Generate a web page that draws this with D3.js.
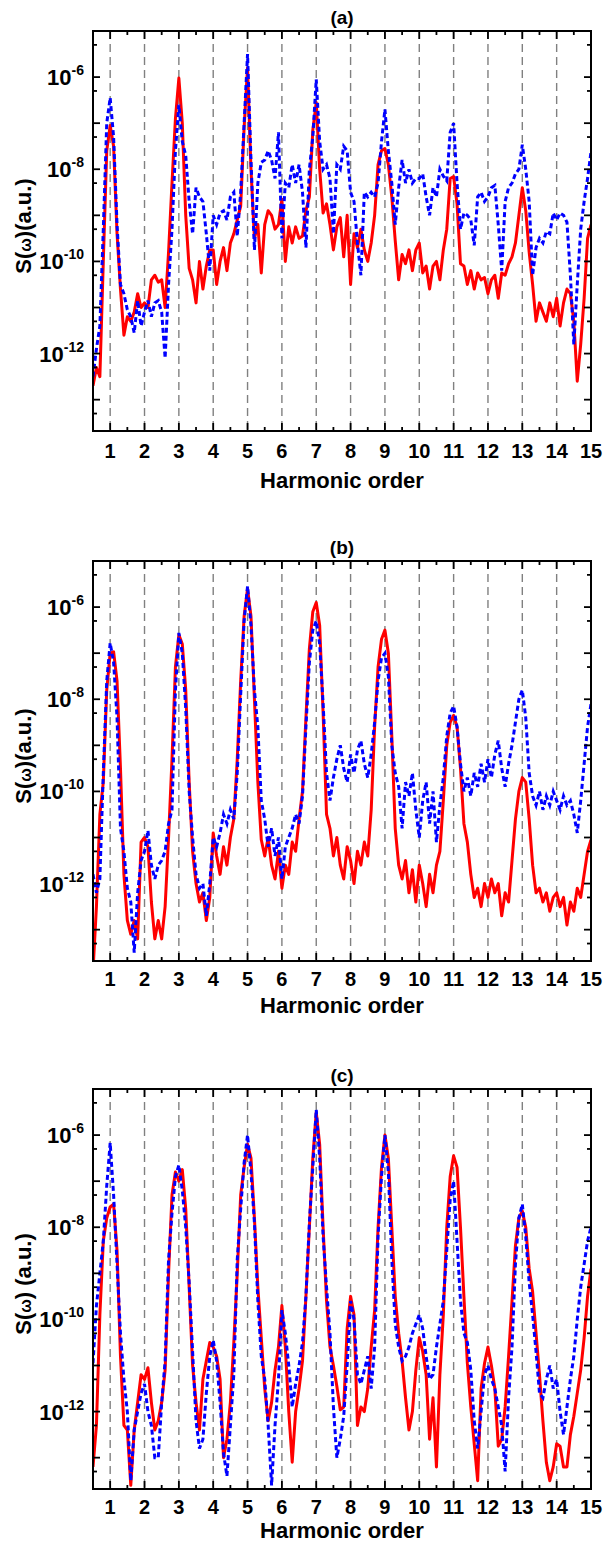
<!DOCTYPE html>
<html>
<head>
<meta charset="utf-8">
<script src="https://cdn.jsdelivr.net/npm/d3@7"></script>
<style>
  body { margin: 0; background: #fff; }
  text { font-family: "Liberation Sans", Arial, sans-serif; font-weight: bold; fill: #000; }
</style>
</head>
<body>
<svg id="chart" width="605" height="1543"></svg>
<script>
// x grid of every series: harmonic order 0.5 .. 15.0, step 0.1
const orderStart = 0.5, orderStep = 0.1;
const harmonicTicks = [1, 2, 3, 4, 5, 6, 7, 8, 9, 10, 11, 12, 13, 14, 15];
const yLabelExps = [-6, -8, -10, -12];
const panelTitles = ["(a)", "(b)", "(c)"];
const yTitles = [["S(", "ω", ")(a.u.)"], ["S(", "ω", ")(a.u.)"], ["S(", "ω", ") (a.u.)"]];

// log10 S(ω)
const redA = [
  -12.7, -12.3, -12.5, -10.0, -7.6, -7.05, -7.5, -9.4, -10.6, -11.6,
  -11.2, -11.3, -11.1, -10.7, -11.0, -10.9, -11.0, -10.4, -10.3, -10.45,
  -10.4, -11.0, -9.8, -8.3, -6.9, -6.02, -7.0, -9.0, -10.15, -10.4,
  -10.9, -10.0, -10.6, -10.1, -9.75, -9.75, -10.5, -10.0, -9.7, -10.2,
  -9.6, -9.4, -9.1, -8.8, -7.1, -5.8, -8.0, -9.5, -9.2, -10.25,
  -9.2, -8.9, -9.0, -9.3, -9.2, -8.65, -10.0, -9.25, -9.6, -9.25,
  -9.5, -9.45, -8.9, -8.6, -7.15, -6.55, -8.0, -8.95, -8.75, -9.2,
  -9.75, -9.25, -9.05, -9.9, -9.0, -10.5, -9.4, -9.7, -9.3, -9.75,
  -10.0, -9.6, -9.0, -7.9, -7.6, -7.55, -7.9, -8.6, -9.55, -10.4,
  -9.85, -10.05, -9.75, -10.2, -9.75, -9.6, -10.25, -10.1, -10.6, -10.1,
  -10.0, -10.4, -9.75, -9.3, -8.2, -8.16, -8.75, -10.05, -10.1, -10.5,
  -10.2, -10.6, -10.25, -10.4, -10.35, -10.7, -10.4, -10.3, -10.8, -10.25,
  -10.3, -10.05, -9.9, -9.6, -9.0, -8.4, -8.9, -9.8, -10.5, -11.3,
  -10.9, -11.1, -11.3, -10.9, -11.2, -10.8, -11.4, -10.9, -10.6, -10.7,
  -11.3, -12.6, -11.8, -10.8, -9.5, -9.2
];
const blueA = [
  -12.5, -11.9, -11.4, -9.3, -7.0, -6.45, -7.3, -9.2, -10.5, -10.7,
  -11.05, -11.2, -11.55, -10.85, -11.4, -11.1, -10.85, -11.2, -10.9, -10.85,
  -11.1, -12.1, -10.5, -9.3, -7.6, -6.6, -7.4, -7.7, -8.7, -9.4,
  -8.4, -8.6, -8.7, -9.4, -10.2, -9.0, -9.2, -8.95, -8.9, -9.1,
  -8.6, -8.5, -9.45, -8.5, -7.0, -5.5, -7.8, -9.75, -8.3, -7.85,
  -7.8, -7.6, -7.8, -8.2, -7.2, -9.5, -8.3, -8.4, -7.9, -8.3,
  -7.9, -8.5, -9.7, -8.0, -7.3, -6.05, -7.4, -8.0, -7.9, -8.2,
  -9.4, -7.9, -8.0, -7.5, -7.6, -8.5, -8.7, -9.6, -10.3, -8.5,
  -8.6, -8.5, -8.6, -8.3, -7.4, -6.7, -7.6, -8.3, -9.2, -8.4,
  -7.8, -8.3, -8.0, -8.3, -8.2, -8.2, -8.1, -8.6, -9.0, -8.4,
  -8.6, -8.0, -8.15, -8.25, -7.2, -7.0, -8.3, -9.3, -8.95, -9.0,
  -9.1, -9.65, -8.6, -8.5, -8.7, -8.6, -8.4, -8.35, -9.2, -10.2,
  -8.7, -8.4, -8.3, -8.1, -8.0, -7.47, -8.0, -8.7, -10.3, -9.7,
  -9.5, -9.6, -9.35, -9.4, -8.95, -9.1, -8.95, -9.0, -9.15, -10.3,
  -11.8, -10.5, -9.3, -8.7, -8.2, -7.62
];
const redB = [
  -13.9, -12.5, -10.5, -9.8, -7.8, -7.0, -6.97, -7.6, -9.5, -11.8,
  -12.8, -13.1, -12.8, -13.2, -11.1, -11.0, -11.2, -12.4, -13.2, -12.8,
  -13.2, -12.5, -11.0, -9.3, -7.3, -6.6, -6.8, -7.8, -9.8, -11.3,
  -12.0, -12.4, -12.2, -12.8, -12.3, -10.9, -11.4, -11.8, -11.2, -11.6,
  -11.0, -10.6, -9.3, -7.6, -6.2, -5.6, -6.2, -8.0, -9.8, -11.05,
  -11.4, -11.0, -11.6, -11.9, -11.3, -12.1, -11.6, -11.8, -11.1, -11.3,
  -10.6, -10.0, -8.4, -6.9, -6.1, -5.9, -6.4, -8.3, -10.5, -10.8,
  -11.4, -11.0, -11.6, -11.9, -11.2, -11.5, -12.0, -11.3, -11.6, -11.1,
  -11.4, -10.4, -8.6, -7.3, -6.7, -6.5, -7.0, -8.8, -10.8, -11.6,
  -11.9, -11.5, -12.2, -11.7, -12.4, -11.6, -12.0, -12.5, -11.8, -12.2,
  -11.6, -11.3, -10.2, -9.0, -8.5, -8.35, -8.6, -9.5, -10.7, -11.1,
  -11.8, -12.3, -12.1, -12.5, -12.0, -12.3, -11.9, -12.2, -12.0, -12.7,
  -12.2, -12.4, -11.5, -10.6, -10.0, -9.7, -9.8, -10.6, -11.6, -12.2,
  -12.1, -12.4, -12.2, -12.6, -12.3, -12.2, -12.5, -12.3, -12.9, -12.4,
  -12.6, -12.1, -12.3, -11.8, -11.3, -11.05
];
const blueB = [
  -11.8, -12.2, -11.9, -9.6, -7.6, -6.78, -7.2, -8.4, -10.8, -11.3,
  -12.1, -12.4, -13.5, -12.2, -11.5, -11.3, -10.85, -11.6, -11.9, -11.6,
  -11.5, -11.3, -10.7, -10.4, -7.8, -6.56, -7.0, -8.2, -10.0, -11.0,
  -11.8, -12.1, -12.0, -12.7, -12.0, -11.0, -11.2, -10.9, -10.5, -10.7,
  -10.4, -10.6, -9.6, -7.9, -6.3, -5.55, -6.4, -7.8, -8.6, -10.2,
  -10.6, -11.2, -10.8, -11.4, -11.0, -11.9, -11.2, -11.0, -10.8, -10.5,
  -10.7, -10.1, -8.6, -7.2, -6.5, -6.3, -6.8, -8.1, -9.6, -10.2,
  -9.7, -9.3, -9.0, -9.5, -9.8, -9.2, -9.6, -9.1, -8.9, -9.4,
  -9.7, -9.2, -8.5, -7.6, -7.1, -7.0, -7.5, -9.0, -9.6, -9.9,
  -10.8, -9.8, -10.1, -9.6, -10.4, -11.0, -10.2, -9.8, -10.7, -10.0,
  -11.1, -10.3, -9.7, -8.8, -8.3, -8.15, -8.6, -9.4, -10.0, -9.7,
  -10.1, -9.6, -9.9, -9.4, -9.8, -9.3, -9.7, -9.2, -8.9, -9.5,
  -9.9, -9.4, -9.0, -8.5, -8.0, -7.8, -8.4, -9.6, -10.1, -10.3,
  -10.0, -10.4, -10.1, -10.3, -10.0, -10.2, -10.4, -10.1, -10.3, -10.2,
  -10.5, -10.9, -10.2, -9.4, -8.6, -8.1
];
const redC = [
  -13.2, -12.3, -9.9, -8.3, -7.8, -7.56, -7.5, -8.5, -10.8, -12.3,
  -12.4, -13.6, -12.4, -11.8, -11.2, -11.3, -11.05, -11.8, -12.4, -12.2,
  -11.8, -11.1, -9.0, -7.3, -6.8, -7.0, -6.75, -7.6, -9.3, -11.0,
  -11.8, -12.4, -11.3, -10.9, -10.5, -10.6, -10.8, -11.3, -13.0, -12.6,
  -11.8, -10.5, -9.0, -7.3, -6.7, -6.2, -6.5, -7.8, -9.3, -10.4,
  -11.5, -12.2, -11.8, -11.1, -10.6, -9.7, -10.6, -12.0, -13.1, -12.0,
  -11.5, -10.9, -9.5, -8.0, -6.5, -5.5, -6.2, -8.0, -9.6, -10.6,
  -11.0, -11.45, -11.96, -11.9, -10.2, -9.5, -9.9, -12.3, -11.9, -12.0,
  -11.5, -10.6, -9.8, -8.0, -6.7, -6.0, -6.5, -8.0, -9.5, -10.3,
  -10.9, -11.7, -12.4, -12.0, -11.1, -10.4, -10.7, -11.2, -12.6, -11.7,
  -13.2, -11.2, -9.9, -8.0, -6.9, -6.45, -6.7, -8.0, -9.5, -10.95,
  -11.9, -12.7, -13.5, -11.5, -10.95, -10.6, -11.0, -11.5, -12.75, -12.6,
  -11.9, -10.8, -9.6, -8.4, -7.8, -7.65, -8.0, -8.9, -9.4, -10.3,
  -11.2, -12.2, -13.1, -13.5, -13.2, -12.7, -12.75, -13.2, -13.2, -12.5,
  -12.1, -11.6, -11.1, -10.4, -9.5, -8.9
];
const blueC = [
  -10.95, -9.7, -9.0, -8.3, -7.1, -6.17, -7.3, -8.8, -10.3, -11.3,
  -12.0, -13.5, -12.4, -12.0, -11.6, -11.4, -12.0, -12.3, -13.0, -13.0,
  -11.8, -10.9, -8.7, -7.7, -6.9, -6.65, -7.2, -8.0, -9.2, -10.7,
  -12.2, -12.8, -12.6, -11.6, -10.8, -10.45, -10.9, -11.8, -12.9, -13.4,
  -12.3, -11.2, -8.7, -7.6, -6.6, -6.0, -6.8, -7.9, -9.6, -10.8,
  -11.3, -12.3, -13.6, -12.3, -11.3, -9.8, -10.3, -11.0, -11.9, -11.4,
  -11.0, -10.5, -9.5, -7.9, -6.7, -5.45, -6.5, -8.2, -9.3, -10.3,
  -11.9, -13.0, -12.6, -12.1, -11.0, -9.6, -10.0, -11.2, -11.4, -11.1,
  -10.8, -11.5, -10.6, -8.2, -6.9, -6.0, -6.8, -8.7, -10.1, -10.6,
  -10.9, -10.8, -10.6, -10.3, -10.1, -9.9, -10.2, -10.8, -11.3, -11.2,
  -10.6, -10.1, -9.6, -8.5, -7.4, -7.0, -8.3, -9.6, -10.3, -10.5,
  -11.1, -12.2, -12.8, -12.0, -11.2, -11.0, -11.3, -11.5, -11.9, -12.3,
  -13.3, -11.7, -10.6, -8.8, -7.8, -7.5, -8.2, -9.2, -9.9, -10.7,
  -11.6, -11.7, -11.3, -11.0, -11.5, -11.3, -12.0, -12.5, -11.9, -11.3,
  -10.8, -10.0, -9.3, -8.8, -8.3, -8.0
];

const panels = [
  { title: panelTitles[0], yTitle: yTitles[0], red: redA, blue: blueA, top: 31, tickDy: 27, labelDy: 57 },
  { title: panelTitles[1], yTitle: yTitles[1], red: redB, blue: blueB, top: 561, tickDy: 25, labelDy: 52 },
  { title: panelTitles[2], yTitle: yTitles[2], red: redC, blue: blueC, top: 1089, tickDy: 25, labelDy: 49 }
];

const svg = d3.select("#chart");
const left = 93, right = 591, panelH = 400;

const x = d3.scaleLinear().domain([0.5, 15]).range([left, right]);
const y = d3.scaleLog().domain([Math.pow(10, -13.68), 1e-5]).range([panelH, 0]);

const majorY = d3.range(-13, -4).map(e => Math.pow(10, e));
const minorY = d3.range(-14, -5).map(e => 5 * Math.pow(10, e)).filter(v => v >= y.domain()[0]);
const minorX = d3.range(1.5, 15, 1);

const toPoints = arr => arr.map((v, i) => [orderStart + i * orderStep, Math.pow(10, v)]);
const line = d3.line().x(d => x(d[0])).y(d => y(d[1]));

panels.forEach((p, pi) => {
  const g = svg.append("g").attr("transform", `translate(0,${p.top})`);

  g.append("clipPath").attr("id", "clip" + pi)
    .append("rect").attr("x", left).attr("y", 0).attr("width", right - left).attr("height", panelH);

  // dashed guides at each harmonic
  g.selectAll(".guide").data(harmonicTicks.filter(h => h < 15)).enter()
    .append("line")
      .attr("x1", d => x(d)).attr("x2", d => x(d))
      .attr("y1", 0).attr("y2", panelH)
      .attr("stroke", "#808080").attr("stroke-width", 1.4)
      .attr("stroke-dasharray", "8,5");

  const plot = g.append("g").attr("clip-path", `url(#clip${pi})`);
  plot.append("path").datum(toPoints(p.red))
    .attr("d", line).attr("fill", "none")
    .attr("stroke", "#ff0000").attr("stroke-width", 3).attr("stroke-linejoin", "round");
  plot.append("path").datum(toPoints(p.blue))
    .attr("d", line).attr("fill", "none")
    .attr("stroke", "#0000ff").attr("stroke-width", 3).attr("stroke-dasharray", "5,3");

  // frame
  g.append("rect").attr("x", left).attr("y", 0).attr("width", right - left).attr("height", panelH)
    .attr("fill", "none").attr("stroke", "#000").attr("stroke-width", 2);

  // inward ticks on all four sides
  const tk = g.append("g").attr("stroke", "#000").attr("stroke-width", 1.8);
  harmonicTicks.forEach(h => {
    tk.append("line").attr("x1", x(h)).attr("x2", x(h)).attr("y1", panelH).attr("y2", panelH - 8);
    tk.append("line").attr("x1", x(h)).attr("x2", x(h)).attr("y1", 0).attr("y2", 8);
  });
  minorX.forEach(h => {
    tk.append("line").attr("x1", x(h)).attr("x2", x(h)).attr("y1", panelH).attr("y2", panelH - 4);
    tk.append("line").attr("x1", x(h)).attr("x2", x(h)).attr("y1", 0).attr("y2", 4);
  });
  majorY.forEach(v => {
    tk.append("line").attr("x1", left).attr("x2", left + 7).attr("y1", y(v)).attr("y2", y(v));
    tk.append("line").attr("x1", right).attr("x2", right - 7).attr("y1", y(v)).attr("y2", y(v));
  });
  minorY.forEach(v => {
    tk.append("line").attr("x1", left).attr("x2", left + 4).attr("y1", y(v)).attr("y2", y(v));
    tk.append("line").attr("x1", right).attr("x2", right - 4).attr("y1", y(v)).attr("y2", y(v));
  });

  // x tick labels
  g.selectAll(".xl").data(harmonicTicks).enter()
    .append("text")
      .attr("x", d => x(d)).attr("y", panelH + p.tickDy)
      .attr("text-anchor", "middle").attr("font-size", 20)
      .text(d => d);

  // y tick labels 10^n
  yLabelExps.forEach(e => {
    const t = g.append("text")
      .attr("x", 84).attr("y", y(Math.pow(10, e)) + 8)
      .attr("text-anchor", "end");
    t.append("tspan").attr("font-size", 22).text("10");
    t.append("tspan").attr("font-size", 14).attr("dy", -10).text(e);
  });

  // titles
  svg.append("text")
    .attr("x", (left + right) / 2).attr("y", p.top - 7)
    .attr("text-anchor", "middle").attr("font-size", 19)
    .text(p.title);

  g.append("text")
    .attr("x", (left + right) / 2).attr("y", panelH + p.labelDy)
    .attr("text-anchor", "middle").attr("font-size", 22)
    .text("Harmonic order");

  const yt = g.append("text")
    .attr("transform", `translate(31,${panelH / 2 - 5}) rotate(-90)`)
    .attr("text-anchor", "middle").attr("font-size", 22);
  yt.append("tspan").text(p.yTitle[0]);
  yt.append("tspan").attr("font-size", 16).text(p.yTitle[1]);
  yt.append("tspan").text(p.yTitle[2]);
});
</script>
</body>
</html>
